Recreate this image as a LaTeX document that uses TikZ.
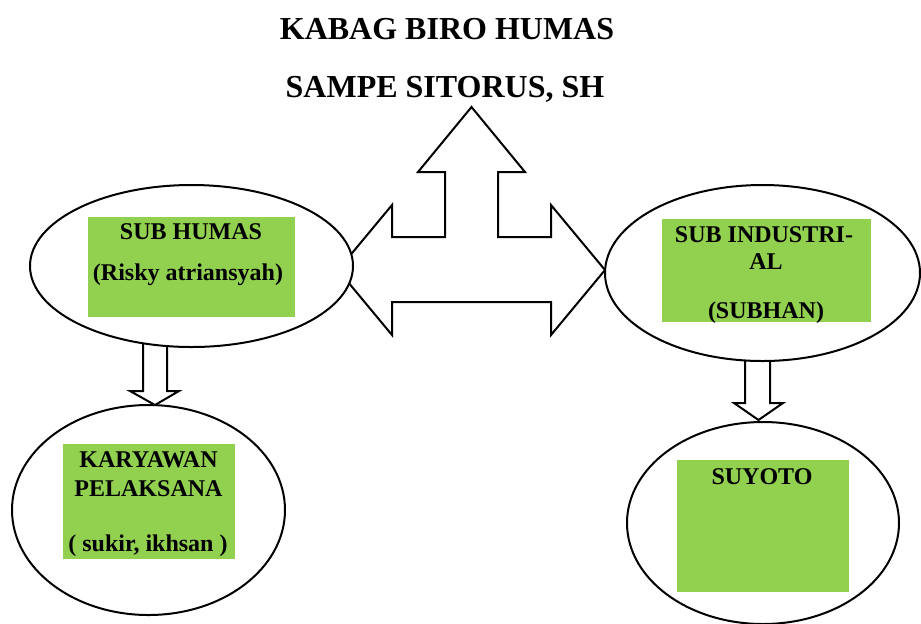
\documentclass[tikz,border=0pt]{standalone}
\usepackage{fontspec}
\setmainfont{Liberation Serif}
\usetikzlibrary{shapes.geometric}
\definecolor{boxgreen}{RGB}{146,208,80}
\tikzset{
  oval/.style={draw=black, line width=1pt, fill=white, ellipse, inner sep=0pt},
  greenbox/.style={fill=boxgreen, draw=none, rectangle, inner sep=0pt},
  label12/.style={anchor=base, inner sep=0pt, font=\fontsize{12}{14}\selectfont\bfseries},
  label16/.style={anchor=base, inner sep=0pt, font=\fontsize{16}{19}\selectfont\bfseries},
  blockarrow/.style={draw=black, line width=1pt, fill=white, line join=miter}
}
\begin{document}
\begin{tikzpicture}[x=0.5pt, y=-0.5pt]
\useasboundingbox (0,0) rectangle (921,623);
% title
\node[label16] (t1) at (447,39) {KABAG BIRO HUMAS};
\node[label16] (t2) at (445,97) {SAMPE SITORUS, SH};
% big three-way arrow
\draw[blockarrow] (338,270) -- (392,205) -- (392,237) -- (445,237) -- (445,172)
  -- (418,172) -- (471.5,107) -- (525,172) -- (498,172) -- (498,237) -- (551,237)
  -- (551,205) -- (605,270) -- (551,335) -- (551,302) -- (392,302) -- (392,335) -- cycle;
% small down arrows
\draw[blockarrow] (143,330) -- (143,391) -- (130,391) -- (155,405) -- (179,391) -- (167,391) -- (167,330);
\draw[blockarrow] (745,345) -- (745,403) -- (734,403) -- (758.5,420) -- (783,403) -- (770,403) -- (770,345);
% ellipses
\node[oval, minimum width=161.5pt, minimum height=81pt] (e1) at (191.5,266) {};
\node[oval, minimum width=157.5pt, minimum height=88pt] (e2) at (762.5,273) {};
\node[oval, minimum width=136.5pt, minimum height=105pt] (e3) at (148.5,510) {};
\node[oval, minimum width=136pt, minimum height=101pt] (e4) at (763,523) {};
% green boxes
\node[greenbox, minimum width=103.5pt, minimum height=50pt] (b1) at (191.5,267) {};
\node[greenbox, minimum width=104.5pt, minimum height=51.5pt] (b2) at (766.5,270.5) {};
\node[greenbox, minimum width=86pt, minimum height=57.5pt] (b3) at (149,501.5) {};
\node[greenbox, minimum width=86pt, minimum height=66pt] (b4) at (763,526) {};
% texts
\node[label12] (s1) at (191,239) {SUB HUMAS};
\node[label12] (s2) at (188,280) {(Risky atriansyah)};
\node[label12] (s3) at (764,242) {SUB INDUSTRI-};
\node[label12] (s4) at (766,269) {AL};
\node[label12] (s5) at (766,318) {(SUBHAN)};
\node[label12] (s6) at (148.5,467) {KARYAWAN};
\node[label12] (s7) at (148.5,496) {PELAKSANA};
\node[label12] (s8) at (148,551) {( sukir, ikhsan )};
\node[label12] (s9) at (762,484) {SUYOTO};
\end{tikzpicture}
\end{document}
